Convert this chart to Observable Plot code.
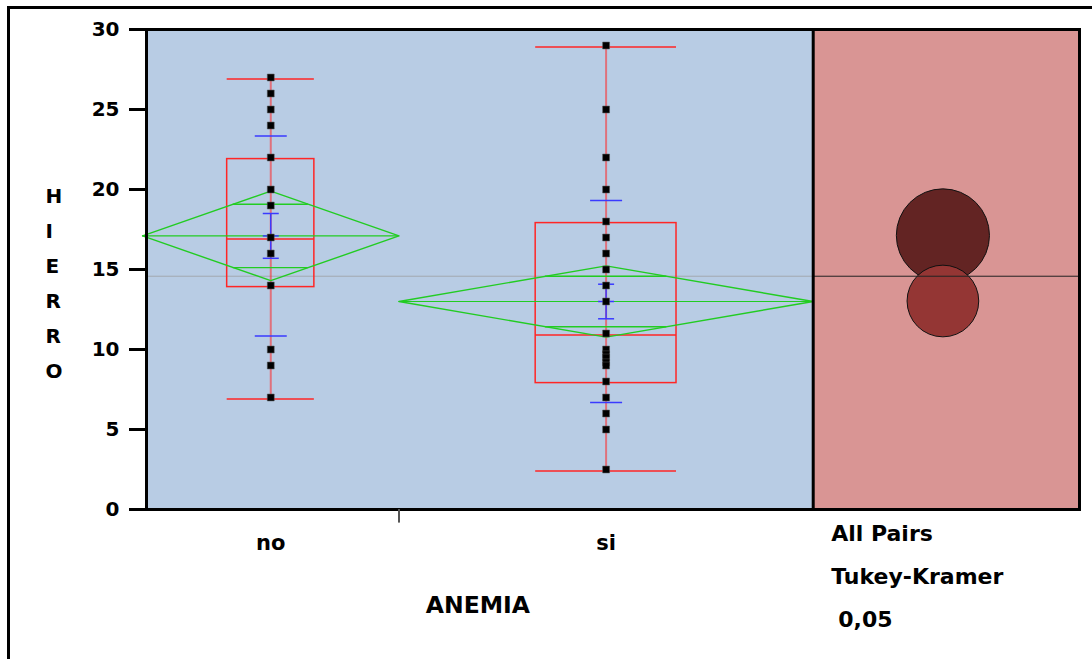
<!DOCTYPE html>
<html>
<head>
<meta charset="utf-8">
<script src="https://cdn.jsdelivr.net/npm/d3@7"></script>
<script src="https://cdn.jsdelivr.net/npm/@observablehq/plot@0.6"></script>
<style>
html, body { margin: 0; padding: 0; background: #fff; }
#wrap { position: relative; width: 1092px; height: 659px; overflow: hidden; }
#outer { position: absolute; left: 7px; top: 6px; width: 1200px; height: 800px;
  border-top: 3px solid #000; border-left: 3px solid #000; pointer-events: none; }
#chart { position: absolute; left: 0; top: 0; }
</style>
</head>
<body>
<div id="wrap"><div id="chart"></div><div id="outer"></div></div>
<script>
// ---- data ----
const groups = ["no", "si"];
const groupN = [13, 21];
const valuesNo = [27, 26, 25, 24, 22, 20, 19, 17, 16, 14, 10, 9, 7];
const valuesSi = [29, 25, 22, 20, 18, 17, 16, 15, 14, 13, 11, 10, 9.7, 9.5, 9.2, 9.0, 8, 7, 6, 5, 2.5];
const groupMean = [17.1, 13.0];
const groupSE = [1.40, 1.08];
const groupSD = [6.25, 6.32];
const ciHalf = [2.8, 2.23];          // mean diamond half height
const qMin = [6.9, 2.4];
const qQ1 = [13.9, 7.9];
const qMedian = [16.9, 10.9];
const qQ3 = [21.9, 17.9];
const qMax = [26.9, 28.9];
const grandMean = 14.58;
const circleRadius = [2.91, 2.24];   // comparison circles (y units)
const yTicks = [0, 5, 10, 15, 20, 25, 30];
const xTitle = "ANEMIA";
const yTitle = "HIERRO";
const panelText = ["All Pairs", "Tukey-Kramer", "0,05"];

// ---- layout / style constants ----
const boxFrac = 0.17;      // box half width as fraction of group width
const xStart = 0.2;        // groups start slightly left of the frame
const panelUnits = 13.5;   // width of comparison panel in x units
const font = "'DejaVu Sans', sans-serif";
const blue = "#3a3aff", red = "#ff2626", green = "#22cc22";

// ---- derived tables ----
const total = d3.sum(groupN);
const xMax = total + panelUnits;
const starts = groupN.map((n, i) => d3.sum(groupN.slice(0, i)));
const G = groups.map((g, i) => ({
  name: g, n: groupN[i], start: starts[i], end: starts[i] + groupN[i],
  center: starts[i] + groupN[i] / 2, hw: groupN[i] * boxFrac,
  mean: groupMean[i], se: groupSE[i], sd: groupSD[i], ci: ciHalf[i],
  min: qMin[i], q1: qQ1[i], med: qMedian[i], q3: qQ3[i], max: qMax[i],
  radius: circleRadius[i]
}));
const points = [
  ...valuesNo.map(v => ({g: 0, v})),
  ...valuesSi.map(v => ({g: 1, v}))
].map(d => ({x: G[d.g].center, y: d.v}));
const diamonds = G.flatMap(d => [
  {name: d.name, x: d.start, y: d.mean},
  {name: d.name, x: d.center, y: d.mean + d.ci},
  {name: d.name, x: d.end, y: d.mean},
  {name: d.name, x: d.center, y: d.mean - d.ci},
  {name: d.name, x: d.start, y: d.mean}
]);
const overlap = G.flatMap(d => {
  const h = d.ci / Math.SQRT2, w = (d.n / 2) * (1 - 1 / Math.SQRT2);
  return [{y: d.mean + h, x1: d.center - w, x2: d.center + w},
          {y: d.mean - h, x1: d.center - w, x2: d.center + w}];
});
const sdTicks = G.flatMap(d => [{x: d.center, y: d.mean + d.sd}, {x: d.center, y: d.mean - d.sd}]);
const seTicks = G.flatMap(d => [{x: d.center, y: d.mean + d.se}, {x: d.center, y: d.mean - d.se}, {x: d.center, y: d.mean}]);
const circleX = total + panelUnits / 2 - 0.15;
const panelRows = panelText.map((t, i) => ({t, i}));

const hline = {
  draw(ctx, size) { const r = Math.sqrt(size / Math.PI); ctx.moveTo(-r, 0); ctx.lineTo(r, 0); }
};

const circlesMark = (index, scales) => {
  const {x, y} = scales;
  const g = d3.create("svg:g");
  const fills = ["#632423", "#943634"];
  G.forEach((d, i) => {
    g.append("circle")
      .attr("cx", x(circleX)).attr("cy", y(d.mean))
      .attr("r", y(0) - y(d.radius))
      .attr("fill", fills[i]).attr("stroke", "#111").attr("stroke-width", 1);
  });
  return g.node();
};

const chart = Plot.plot({
  width: 1092, height: 659,
  marginLeft: 146, marginRight: 13, marginTop: 29, marginBottom: 150,
  style: {fontFamily: font, fontWeight: "bold", background: "transparent", color: "#000"},
  x: {type: "linear", domain: [xStart, xMax], axis: null},
  y: {domain: [0, 30], axis: null},
  marks: [
    Plot.rect([0], {x1: xStart, x2: total, y1: 0, y2: 30, fill: "#b8cce4"}),
    Plot.rect([0], {x1: total, x2: xMax, y1: 0, y2: 30, fill: "#d99594"}),
    Plot.ruleY([grandMean], {x1: xStart, x2: total, stroke: "#999", strokeWidth: 1, strokeOpacity: 0.7}),
    // quantile boxes
    Plot.ruleX(G, {x: "center", y1: "min", y2: "max", stroke: red, strokeOpacity: 0.55, strokeWidth: 2}),
    Plot.rect(G, {x1: d => d.center - d.hw, x2: d => d.center + d.hw, y1: "q1", y2: "q3",
      fill: "none", stroke: red, strokeWidth: 1.5}),
    Plot.ruleY(G, {y: "med", x1: d => d.center - d.hw, x2: d => d.center + d.hw, stroke: red, strokeWidth: 1.5}),
    Plot.ruleY(G, {y: "min", x1: d => d.center - d.hw, x2: d => d.center + d.hw, stroke: red, strokeWidth: 1.5}),
    Plot.ruleY(G, {y: "max", x1: d => d.center - d.hw, x2: d => d.center + d.hw, stroke: red, strokeWidth: 1.5}),
    // means diamonds
    Plot.line(diamonds, {x: "x", y: "y", z: "name", stroke: green, strokeWidth: 1.4}),
    Plot.ruleY(G, {y: "mean", x1: "start", x2: "end", stroke: green, strokeWidth: 1.2}),
    Plot.ruleY(overlap, {y: "y", x1: "x1", x2: "x2", stroke: green, strokeWidth: 1.4}),
    // std dev / std err
    Plot.ruleX(G, {x: "center", y1: d => d.mean - d.se, y2: d => d.mean + d.se, stroke: blue, strokeWidth: 1.5}),
    Plot.dot(sdTicks, {x: "x", y: "y", symbol: hline, r: 16, fill: "none", stroke: blue, strokeWidth: 1.5}),
    Plot.dot(seTicks, {x: "x", y: "y", symbol: hline, r: 8, fill: "none", stroke: blue, strokeWidth: 1.5}),
    // points
    Plot.dot(points, {x: "x", y: "y", symbol: "square", r: 3.9, fill: "#000", stroke: "#555", strokeWidth: 0.5}),
    // comparison circles
    circlesMark,
    Plot.ruleY([grandMean], {x1: total, x2: xMax, stroke: "#222", strokeWidth: 1}),
    // frame & divider
    Plot.frame({stroke: "#000", strokeWidth: 3}),
    Plot.ruleX([total], {stroke: "#000", strokeWidth: 3}),
    Plot.ruleX([starts[1]], {y1: 0, y2: -0.85, stroke: "#555", strokeWidth: 2}),
    // axes
    Plot.axisY({ticks: yTicks, tickSize: 17, tickPadding: 10, strokeWidth: 3, fontSize: 20,
      fontWeight: "bold", label: null, tickFormat: d => String(d)}),
    Plot.text(G, {x: "center", y: 0, dy: 34, text: "name", fontSize: 21, fontWeight: "bold"}),
    Plot.text([xTitle], {x: total / 2, y: 0, dy: 96, text: d => d, fontSize: 23.5, fontWeight: "bold"}),
    Plot.text([yTitle], {frameAnchor: "left", dx: -101, dy: 10, text: d => d.split("").join("\n"),
      lineHeight: 1.75, fontSize: 20, fontWeight: "bold"}),
    Plot.text(panelRows.slice(0, 1), {x: total, y: 0, text: "t", textAnchor: "start",
      fontSize: 22, fontWeight: "bold", dx: 18, dy: 24}),
    Plot.text(panelRows.slice(1, 2), {x: total, y: 0, text: "t", textAnchor: "start",
      fontSize: 22, fontWeight: "bold", dx: 18, dy: 67}),
    Plot.text(panelRows.slice(2, 3), {x: total, y: 0, text: "t", textAnchor: "start",
      fontSize: 22, fontWeight: "bold", dx: 25, dy: 110})
  ]
});
document.getElementById("chart").append(chart);
</script>
</body>
</html>
